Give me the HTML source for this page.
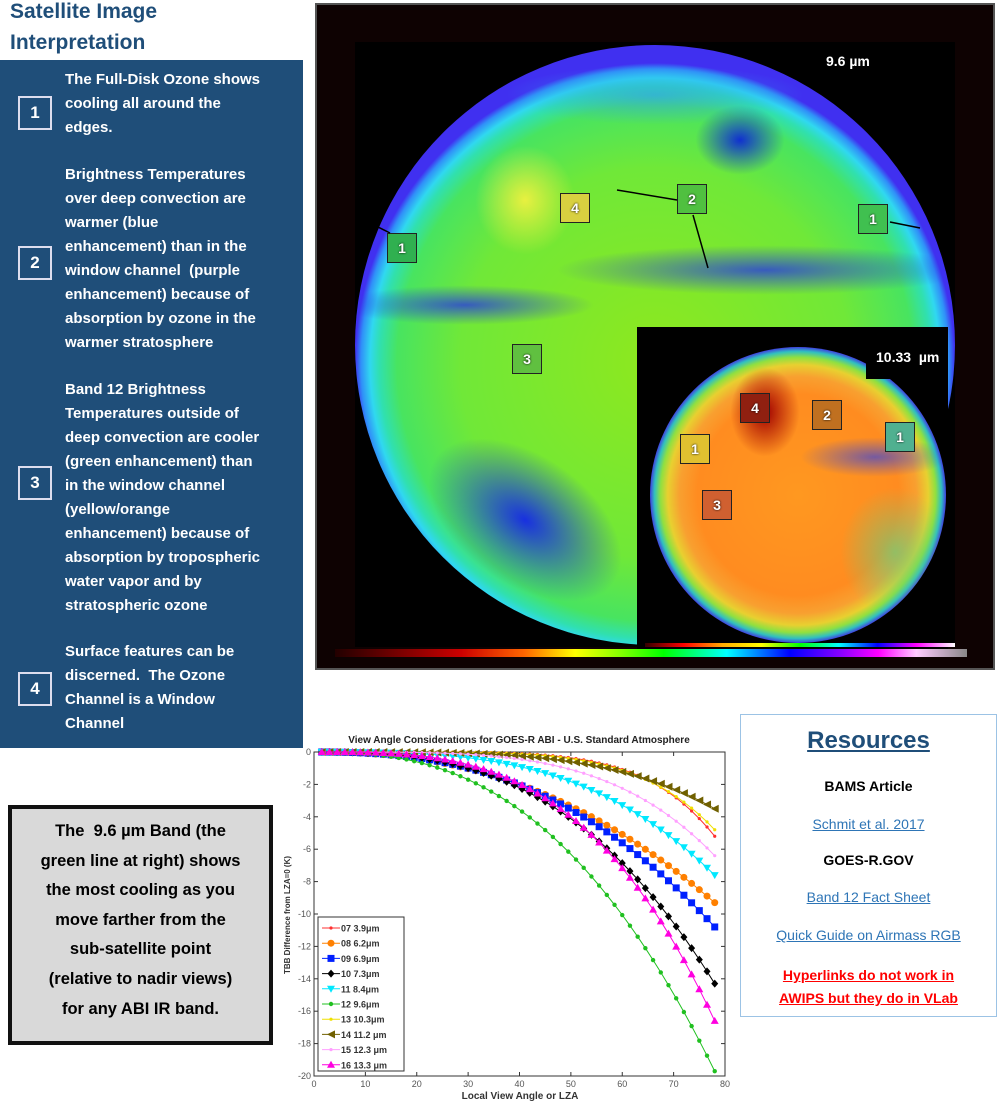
<!DOCTYPE html>
<html><head><meta charset="utf-8"><style>
body{margin:0;width:1000px;height:1102px;background:#fff;position:relative;overflow:hidden;font-family:"Liberation Sans",sans-serif}
.abs{position:absolute}
.t{color:#1f4e79;font-weight:bold;font-size:21px;line-height:31px;left:10px;top:-4px}
.panel{left:0;top:60px;width:303px;height:688px;background:#1f4e79}
.ptxt{color:#fff;font-weight:bold;font-size:15px;line-height:24px;white-space:nowrap;left:65px}
.nb{left:18px;width:30px;height:30px;border:2px solid #dde;color:#fff;font-weight:bold;font-size:17px;text-align:center;line-height:30px}
.lab{border:1.5px solid #222;color:#fff;font-weight:bold;font-size:14px;text-align:center;width:28px;height:28px;line-height:28px;text-shadow:0 0 2px #000}
.res{left:740px;top:714px;width:255px;height:301px;border:1px solid #9cc3e5;text-align:center;font-weight:bold;font-size:14px}
.res div{position:absolute;left:0;width:255px}
.lnk{color:#2e75b6;text-decoration:underline;font-weight:normal}
.grey{left:8px;top:805px;width:257px;height:224px;background:#d9d9d9;border:4px solid #111;text-align:center;font-weight:bold;font-size:16.5px;line-height:29.6px;padding-top:8px;box-sizing:content-box}
.bl{position:absolute;border-radius:50%}
</style></head><body>
<div class="abs t">Satellite Image<br>Interpretation</div>
<div class="abs panel"></div>
<div class="abs nb" style="top:96px">1</div>
<div class="abs nb" style="top:246px">2</div>
<div class="abs nb" style="top:466px">3</div>
<div class="abs nb" style="top:672px">4</div>
<div class="abs ptxt" style="top:68px">The Full-Disk Ozone shows<br>cooling all around the<br>edges.</div>
<div class="abs ptxt" style="top:163px">Brightness Temperatures<br>over deep convection are<br>warmer (blue<br>enhancement) than in the<br>window channel &nbsp;(purple<br>enhancement) because of<br>absorption by ozone in the<br>warmer stratosphere</div>
<div class="abs ptxt" style="top:378px">Band 12 Brightness<br>Temperatures outside of<br>deep convection are cooler<br>(green enhancement) than<br>in the window channel<br>(yellow/orange<br>enhancement) because of<br>absorption by tropospheric<br>water vapor and by<br>stratospheric ozone</div>
<div class="abs ptxt" style="top:640px">Surface features can be<br>discerned. &nbsp;The Ozone<br>Channel is a Window<br>Channel</div>

<!-- satellite frame -->
<div class="abs" style="left:315px;top:3px;width:680px;height:667px;background:#0e0202;border:2px solid #555;box-sizing:border-box"></div>
<div class="abs" style="left:355px;top:42px;width:600px;height:605px;background:#000;overflow:hidden">
 <div class="abs" style="left:0;top:3px;width:600px;height:600px;border-radius:50%;overflow:hidden;background:radial-gradient(circle 300px at 50% 53%,#8ee81e 0%,#70e838 65%,#48e460 86%,#30e0b0 92%,#30d8f0 95%,#3090f8 98%,#4030f0 100%)">
  <div class="bl" style="left:60px;top:410px;width:220px;height:130px;background:radial-gradient(#1830e0,#20a0f000 70%);transform:rotate(35deg)"></div>
  <div class="bl" style="left:340px;top:60px;width:90px;height:70px;background:radial-gradient(#1030d0,#20c0f000 70%)"></div>
  <div class="bl" style="left:120px;top:100px;width:100px;height:110px;background:radial-gradient(#e8f040,#c0f04000 70%)"></div>
  <div class="bl" style="left:200px;top:200px;width:420px;height:50px;background:radial-gradient(#2838e0cc,#3040e000 70%)"></div>
  <div class="bl" style="left:-20px;top:240px;width:260px;height:40px;background:radial-gradient(#2838e0cc,#3040e000 70%)"></div>
  <div class="bl" style="left:150px;top:20px;width:300px;height:60px;background:radial-gradient(#30a0f0aa,#30a0f000 70%)"></div>
 </div>
</div>
<div class="abs" style="left:818px;top:50px;width:92px;height:32px;background:#000;color:#fff;font-weight:bold;font-size:14px;line-height:22px;text-indent:8px">9.6 µm</div>
<div class="abs lab" style="left:560px;top:193px;background:#d8d040">4</div>
<div class="abs lab" style="left:677px;top:184px;background:#50c040">2</div>
<div class="abs lab" style="left:858px;top:204px;background:#40c050">1</div>
<div class="abs lab" style="left:387px;top:233px;background:#30b050">1</div>
<div class="abs lab" style="left:512px;top:344px;background:#60c040">3</div>
<svg class="abs" style="left:0;top:0" width="1000" height="700">
 <g stroke="#000" stroke-width="1.5" fill="#000">
 <line x1="677" y1="200" x2="617" y2="190"/><line x1="693" y1="215" x2="708" y2="268"/>
 <line x1="890" y1="222" x2="920" y2="228"/><line x1="390" y1="233" x2="374" y2="225"/>
 </g>
</svg>
<!-- inset -->
<div class="abs" style="left:637px;top:327px;width:311px;height:323px;background:#000;overflow:hidden">
 <div class="abs" style="left:13px;top:20px;width:296px;height:296px;border-radius:50%;overflow:hidden;background:radial-gradient(circle 148px at 50% 50%,#ff9820 0%,#ff8c20 68%,#f8a030 80%,#e8d030 88%,#90e040 93%,#30c0c0 97%,#4040e0 100%)">
  <div class="bl" style="left:80px;top:20px;width:70px;height:90px;background:radial-gradient(#a00000,#c0100000 70%)"></div>
  <div class="bl" style="left:150px;top:90px;width:150px;height:40px;background:radial-gradient(#3040e0aa,#3040e000 70%)"></div>
  <div class="bl" style="left:190px;top:140px;width:110px;height:130px;background:radial-gradient(#60d080aa,#60d08000 70%)"></div>
 </div>
</div>
<div class="abs" style="left:866px;top:343px;width:80px;height:36px;background:#000;color:#fff;font-weight:bold;font-size:14px;line-height:28px;text-indent:10px">10.33 &nbsp;µm</div>
<div class="abs lab" style="left:740px;top:393px;background:#902010">4</div>
<div class="abs lab" style="left:812px;top:400px;background:#c07020">2</div>
<div class="abs lab" style="left:885px;top:422px;background:#50b090">1</div>
<div class="abs lab" style="left:680px;top:434px;background:#e0c030">1</div>
<div class="abs lab" style="left:702px;top:490px;background:#d06030">3</div>
<div class="abs" style="left:645px;top:643px;width:310px;height:4px;background:linear-gradient(90deg,#300,#f00,#fa0,#ff0,#0f0,#0ff,#00f,#f0f,#fff)"></div>
<div class="abs" style="left:335px;top:649px;width:632px;height:8px;background:linear-gradient(90deg,#200,#c00 20%,#f60 30%,#ff0 38%,#8f0 45%,#0f0 52%,#0ff 62%,#00f 72%,#80f 80%,#f0f 86%,#fcf 92%,#888 100%)"></div>

<!-- chart -->
<svg class="abs" style="left:280px;top:725px" width="460" height="377" id="ch" font-family="Liberation Sans,sans-serif">
 <rect x="23" y="0" width="437" height="377" fill="#fff"/>
 <text x="239" y="18" font-size="10" text-anchor="middle" font-weight="bold" fill="#222">View Angle Considerations for GOES-R ABI - U.S. Standard Atmosphere</text>
</svg>

<div class="abs res">
 <div style="top:12px;font-size:24px;color:#1f4e79;text-decoration:underline">Resources</div>
 <div style="top:63px">BAMS Article</div>
 <div style="top:101px" class="lnk">Schmit et al. 2017</div>
 <div style="top:137px">GOES-R.GOV</div>
 <div style="top:174px" class="lnk">Band 12 Fact Sheet</div>
 <div style="top:212px" class="lnk">Quick Guide on Airmass RGB</div>
 <div style="top:249px;color:#f00;text-decoration:underline;line-height:23px">Hyperlinks do not work in<br>AWIPS but they do in VLab</div>
</div>
<div class="abs grey">The &nbsp;9.6 µm Band (the<br>green line at right) shows<br>the most cooling as you<br>move farther from the<br>sub-satellite point<br>(relative to nadir views)<br>for any ABI IR band.</div>

<script>
var s=document.getElementById('ch'),NS='http://www.w3.org/2000/svg';
function el(t,a,tx){var e=document.createElementNS(NS,t);for(var k in a)e.setAttribute(k,a[k]);if(tx!==undefined)e.textContent=tx;s.appendChild(e);return e;}
var X0=34,X1=445,Y0=27,Y1=351;
function px(x){return X0+x/80*(X1-X0)} function py(y){return Y0+(-y)/20*(Y1-Y0)}
el('rect',{x:X0,y:Y0,width:X1-X0,height:Y1-Y0,fill:'none',stroke:'#333'});
for(var i=0;i<=8;i++){var x=px(i*10);el('line',{x1:x,y1:Y1,x2:x,y2:Y1-4,stroke:'#333'});el('line',{x1:x,y1:Y0,x2:x,y2:Y0+4,stroke:'#333'});el('text',{x:x,y:Y1+11,'font-size':9,'text-anchor':'middle',fill:'#555'},String(i*10));}
for(var j=0;j<=10;j++){var y=py(-j*2);el('line',{x1:X0,y1:y,x2:X0+4,y2:y,stroke:'#333'});el('line',{x1:X1,y1:y,x2:X1-4,y2:y,stroke:'#333'});el('text',{x:X0-3,y:y+3,'font-size':9,'text-anchor':'end',fill:'#555'},String(j?-j*2:0));}
el('text',{x:240,y:374,'font-size':10,'font-weight':'bold','text-anchor':'middle',fill:'#333'},'Local View Angle or LZA');
el('text',{x:0,y:0,'font-size':8,'font-weight':'bold','text-anchor':'middle',fill:'#333',transform:'translate(10,190) rotate(-90)'},'TBB Difference from LZA=0 (K)');
var S=[['#ff3030',-5.2,6,'dot',' 07  3.9μm'],['#ff8000',-9.3,2.3,'circ',' 08  6.2μm'],['#0020ff',-10.8,2.5,'sq',' 09  6.9μm'],['#000',-14.3,2.8,'dia',' 10  7.3μm'],['#00e8ff',-7.6,3.2,'tdn',' 11  8.4μm'],['#20c020',-19.7,2.56,'star',' 12  9.6μm'],['#f0e000',-4.8,5.5,'dot',' 13 10.3μm'],['#706000',-3.5,4,'tl',' 14 11.2 μm'],['#ffa0ff',-6.4,4,'dot',' 15 12.3 μm'],['#ff00e0',-16.6,3.2,'tup',' 16 13.3 μm']];
function mk(t,x,y,c){if(t=='circ')el('circle',{cx:x,cy:y,r:3.5,fill:c});else if(t=='sq')el('rect',{x:x-3.5,y:y-3.5,width:7,height:7,fill:c});else if(t=='dia')el('polygon',{points:(x)+','+(y-4)+' '+(x+3.5)+','+y+' '+x+','+(y+4)+' '+(x-3.5)+','+y,fill:c});else if(t=='tdn')el('polygon',{points:(x-4)+','+(y-3)+' '+(x+4)+','+(y-3)+' '+x+','+(y+4),fill:c});else if(t=='tup')el('polygon',{points:(x-4)+','+(y+3)+' '+(x+4)+','+(y+3)+' '+x+','+(y-4),fill:c});else if(t=='tl')el('polygon',{points:(x+4)+','+(y-4)+' '+(x+4)+','+(y+4)+' '+(x-4)+','+y,fill:c});else if(t=='star')el('circle',{cx:x,cy:y,r:2.2,fill:c});else el('circle',{cx:x,cy:y,r:1.6,fill:c});}
S.forEach(function(a){var pts=[],mp=[];for(var x=1.5;x<=78.1;x+=1.5){var y=a[1]*Math.pow(x/78,a[2]);pts.push(px(x).toFixed(1)+','+py(y).toFixed(1));mp.push([px(x),py(y)]);}
 el('polyline',{points:pts.join(' '),fill:'none',stroke:a[0],'stroke-width':1});mp.forEach(function(p){mk(a[3],p[0],p[1],a[0]);});});
el('rect',{x:38,y:192,width:86,height:154,fill:'#fff',stroke:'#333'});
S.forEach(function(a,i){var y=203+i*15.2;el('line',{x1:42,y1:y,x2:60,y2:y,stroke:a[0]});mk(a[3],51,y,a[0]);el('text',{x:61,y:y+3.5,'font-size':9,'font-weight':'bold',fill:'#333'},a[4]);});
</script>
</body></html>
